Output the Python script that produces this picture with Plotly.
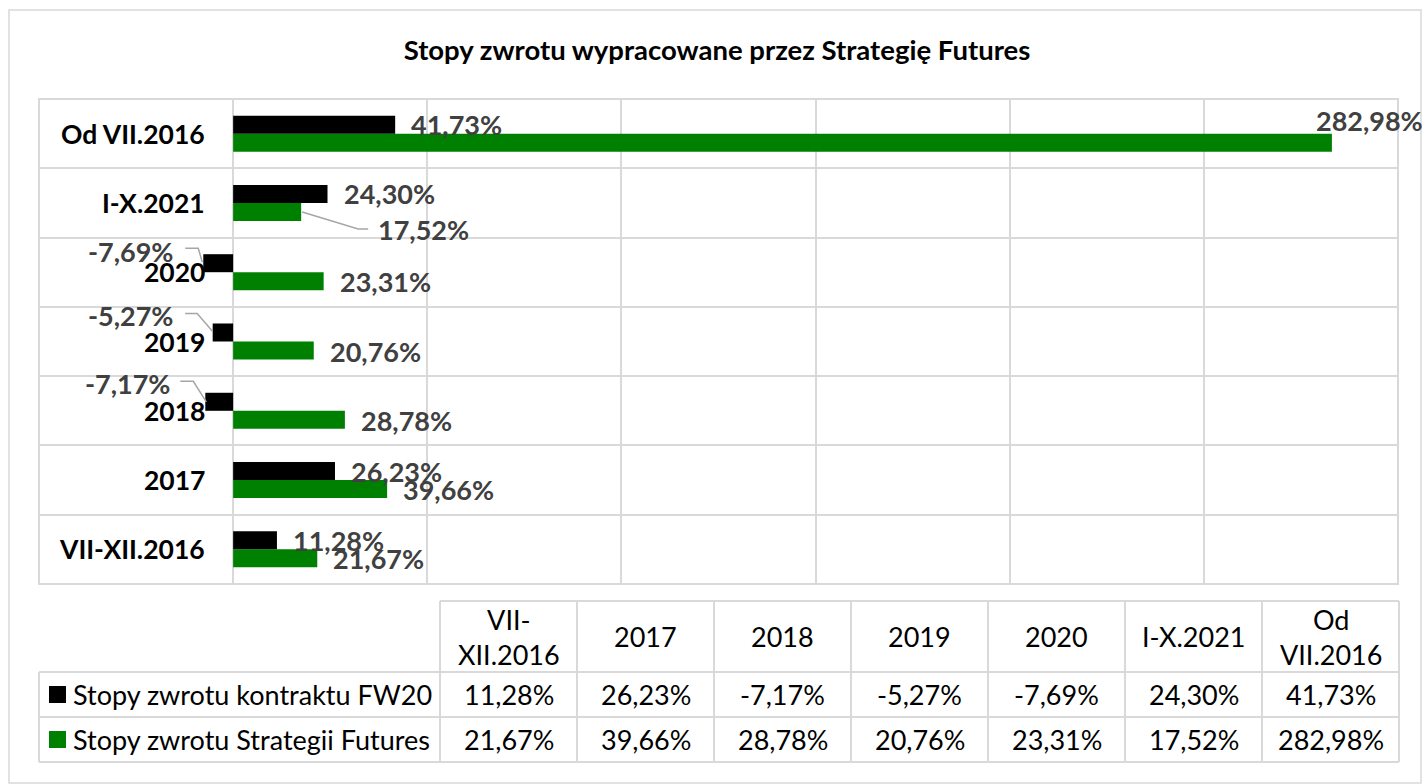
import plotly.graph_objects as go

# ---------------- data ----------------
categories = ["VII-XII.2016", "2017", "2018", "2019", "2020", "I-X.2021", "Od VII.2016"]
fw20_returns = [11.28, 26.23, -7.17, -5.27, -7.69, 24.30, 41.73]
strategy_returns = [21.67, 39.66, 28.78, 20.76, 23.31, 17.52, 282.98]
series_names = ["Stopy zwrotu kontraktu FW20", "Stopy zwrotu Strategii Futures"]
table_headers = ["VII-<br>XII.2016", "2017", "2018", "2019", "2020", "I-X.2021", "Od<br>VII.2016"]
x_ticks = [-50, 0, 50, 100, 150, 200, 250, 300]
chart_title = "Stopy zwrotu wypracowane przez Strategię Futures"

# ---------------- style ----------------
W, H = 1422, 784
L, R, T, B = 39, 1398, 99, 584          # plot area in px
FONT = "Lato, 'Open Sans', sans-serif"
BLACK, GREEN = "#000000", "#008000"
GRID = "#d9d9d9"
LABEL_GRAY = "#404040"
LEADER = "#a6a6a6"
BAR_HALF = 9  # px between category centre and bar centre


def fmt(v):
    return f"{v:.2f}".replace(".", ",") + "%"


def px_x(x):
    return (x - L) / (R - L)


def px_y(y):
    return (B - y) / (B - T)


fig = go.Figure()
fig.add_trace(go.Bar(orientation="h", y=categories, x=strategy_returns, name=series_names[1],
                     marker=dict(color=GREEN, line=dict(width=0)), showlegend=False, hoverinfo="x+y"))
fig.add_trace(go.Bar(orientation="h", y=categories, x=fw20_returns, name=series_names[0],
                     marker=dict(color=BLACK, line=dict(width=0)), showlegend=False, hoverinfo="x+y"))

annotations = []
shapes = []

# category labels inside plot, right-aligned next to the zero line (y given as category index)
for i, c in enumerate(categories):
    annotations.append(dict(x=0, y=i, xref="x", yref="y", text=c, showarrow=False,
                            xanchor="right", yanchor="middle", xshift=-27, borderpad=0,
                            font=dict(family=FONT, size=26.5, color="#000000", weight="bold")))

# data-label placements: (dx, dy, anchor, leader points) in px relative to bar end / bar centre
custom = {
    (0, 2): dict(dx=-33, dy=-18.5, anchor="right", leader=[(-25, -20.5), (-12, -20.5), (1, 0)]),
    (0, 3): dict(dx=-37.5, dy=-17, anchor="right", leader=[(-27.5, -19), (-15.5, -19), (0, -1)]),
    (0, 4): dict(dx=-28, dy=-11.5, anchor="right", leader=[(-18, -15), (-5, -15), (-1, -1)]),
    (1, 5): dict(dx=76, dy=17.5, anchor="left", leader=[(1, 0), (57, 17), (67, 17)]),
    (1, 6): dict(dx=-17, dy=-22.5, anchor="left"),
}

for s, (vals, bar_off) in enumerate([(fw20_returns, -BAR_HALF), (strategy_returns, BAR_HALF)]):
    for i, v in enumerate(vals):
        p = custom.get((s, i), dict(dx=15, dy=0.5 if s else 0, anchor="left"))
        annotations.append(dict(x=v, y=i, xref="x", yref="y", text=fmt(v), showarrow=False,
                                xanchor=p["anchor"], yanchor="middle", xshift=p["dx"],
                                yshift=-(bar_off + p["dy"]), borderpad=0,
                                font=dict(family=FONT, size=27, color=LABEL_GRAY, weight="bold")))
        if "leader" in p:
            pts = p["leader"]
            path = "M " + " L ".join(f"{px},{-(bar_off + py)}" for px, py in pts)
            shapes.append(dict(type="path", xref="x", yref="y", xsizemode="pixel", ysizemode="pixel",
                               xanchor=v, yanchor=i, path=path, line=dict(color=LEADER, width=1.5)))

# plot frame
shapes.append(dict(type="rect", xref="paper", yref="paper", x0=0, x1=1, y0=0, y1=1,
                   line=dict(color=GRID, width=2), layer="below"))
# outer chart border
shapes.append(dict(type="rect", xref="paper", yref="paper", x0=px_x(9), x1=px_x(1421),
                   y0=px_y(783), y1=px_y(10), line=dict(color=GRID, width=1.5), layer="below"))

# ---------------- data table ----------------
col_x = [440 + 137 * k for k in range(8)]
col_x[-1] = 1399
legend_left = 39
y_head_top, y_head_bot, y_row1, y_row2 = 601, 672, 717, 762
tline = dict(color=GRID, width=2)
shapes.append(dict(type="line", xref="paper", yref="paper", x0=px_x(col_x[0]), x1=px_x(col_x[-1]),
                   y0=px_y(y_head_top), y1=px_y(y_head_top), line=tline))
for yy in (y_head_bot, y_row1, y_row2):
    shapes.append(dict(type="line", xref="paper", yref="paper", x0=px_x(legend_left), x1=px_x(col_x[-1]),
                       y0=px_y(yy), y1=px_y(yy), line=tline))
for xx in col_x:
    shapes.append(dict(type="line", xref="paper", yref="paper", x0=px_x(xx), x1=px_x(xx),
                       y0=px_y(y_head_top), y1=px_y(y_row2), line=tline))
shapes.append(dict(type="line", xref="paper", yref="paper", x0=px_x(legend_left), x1=px_x(legend_left),
                   y0=px_y(y_head_bot), y1=px_y(y_row2), line=tline))

tfont = dict(family=FONT, size=27, color="#000000")
for k, htxt in enumerate(table_headers):
    cx = (col_x[k] + col_x[k + 1]) / 2
    annotations.append(dict(x=px_x(cx), y=px_y((y_head_top + y_head_bot) / 2), xref="paper", yref="paper",
                            text=htxt, showarrow=False, xanchor="center", yanchor="middle", font=tfont,
                            align="center"))
row_centers = [(y_head_bot + y_row1) / 2, (y_row1 + y_row2) / 2]
for r, (vals, color, name) in enumerate([(fw20_returns, BLACK, series_names[0]),
                                          (strategy_returns, GREEN, series_names[1])]):
    yc = row_centers[r]
    shapes.append(dict(type="rect", xref="paper", yref="paper", x0=px_x(49), x1=px_x(66),
                       y0=px_y(yc + 8.5), y1=px_y(yc - 8.5), fillcolor=color, line=dict(width=0)))
    annotations.append(dict(x=px_x(71), y=px_y(yc), xref="paper", yref="paper", text=name,
                            showarrow=False, xanchor="left", yanchor="middle", font=tfont))
    for k, v in enumerate(vals):
        cx = (col_x[k] + col_x[k + 1]) / 2
        annotations.append(dict(x=px_x(cx), y=px_y(yc), xref="paper", yref="paper", text=fmt(v),
                                showarrow=False, xanchor="center", yanchor="middle", font=tfont))

fig.update_layout(
    width=W, height=H, autosize=False,
    margin=dict(l=L, r=W - R, t=T, b=H - B, pad=0),
    paper_bgcolor="white", plot_bgcolor="white",
    barmode="group", bargap=0.48, bargroupgap=0,
    title=dict(text=chart_title, x=717 / W, y=1 - 50 / H, xanchor="center", yanchor="middle",
               font=dict(family=FONT, size=27.5, color="#000000", weight="bold")),
    xaxis=dict(range=[-50, 300], tickvals=x_ticks, showticklabels=False, showgrid=True,
               gridcolor=GRID, gridwidth=2, zeroline=False, showline=False, ticks="", fixedrange=True),
    yaxis=dict(type="category", categoryorder="array", categoryarray=categories, range=[-0.5, 6.5],
               tickson="boundaries", showticklabels=False, showgrid=True, gridcolor=GRID, gridwidth=2,
               zeroline=False, showline=False, ticks="", fixedrange=True),
    annotations=annotations,
    shapes=shapes,
    font=dict(family=FONT),
)

fig.write_html("out.html", include_plotlyjs=True, config={"displayModeBar": False},
               post_script="document.body.style.margin='0';document.body.style.overflow='hidden';")
